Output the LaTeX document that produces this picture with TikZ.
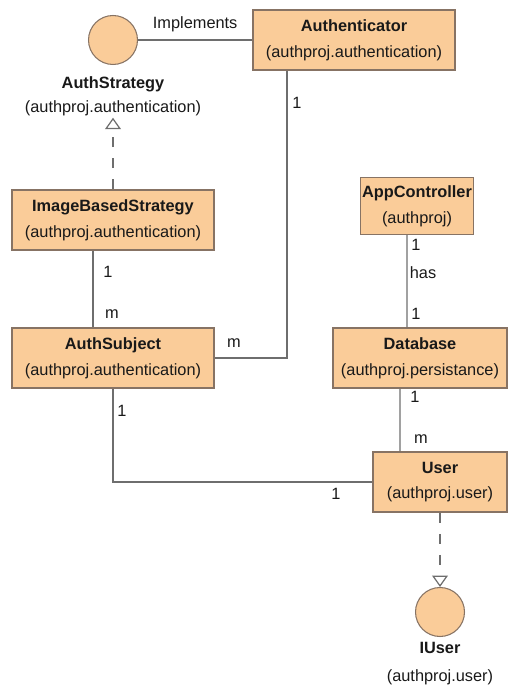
\documentclass[tikz,border=0pt]{standalone}
\usepackage{fontspec}
\setmainfont{Liberation Sans}
\usetikzlibrary{positioning, arrows.meta, shapes}

\definecolor{classfill}{RGB}{250,204,153}
\definecolor{classline}{RGB}{135,115,100}
\definecolor{wirecol}{RGB}{110,110,110}

\begin{document}
\begin{tikzpicture}
            [x=0.02cm, y=-0.02cm,
             txt/.style={font={\fontsize{9.3}{14.7}\selectfont}, text=black!90, inner sep=0pt},
             class/.style={rectangle, draw=classline, fill=classfill, line width=0.8pt,
                           align=center, txt, minimum height=1.2cm},
             iface/.style={circle, draw=classline, fill=classfill, line width=0.6pt,
                           minimum size=0.98cm, inner sep=0pt},
             wire/.style={draw=wirecol, line width=0.7pt},
             realize/.style={wire, dash pattern=on 6pt off 6pt,
                             -{Triangle[open, width=9pt, length=6.5pt]}}]
            \useasboundingbox (0,0) rectangle (509,695);

            % classes
            \node[class, minimum width=4.04cm] (auth) at (354,40) {\textbf{Authenticator}\\(authproj.authentication)};
            \node[class, minimum width=4.04cm] (ibs) at (113,220) {\textbf{ImageBasedStrategy}\\(authproj.authentication)};
            \node[class, minimum width=4.04cm] (subj) at (113,358) {\textbf{AuthSubject}\\(authproj.authentication)};
            \node[class, minimum width=2.26cm, minimum height=1.14cm] (app) at (417,206) {\textbf{AppController}\\(authproj)};
            \node[class, minimum width=3.48cm] (db) at (420,358) {\textbf{Database}\\(authproj.persistance)};
            \node[class, minimum width=2.68cm] (user) at (440,482) {\textbf{User}\\(authproj.user)};

            % interfaces
            \node[iface] (strat) at (113,40) {};
            \node[txt] (stratname) at (113,84) {\textbf{AuthStrategy}};
            \node[txt] (stratpkg) at (113,108) {(authproj.authentication)};
            \node[iface] (iuser) at (440,612) {};
            \node[txt] (iusername) at (440,648) {\textbf{IUser}};
            \node[txt] (iuserpkg) at (440,677) {(authproj.user)};

            \draw[wire] (strat) -- node[txt, above=4.5pt] (impl) {Implements} (auth);
            \draw[realize] (ibs.north) -- ([yshift=-1pt]stratpkg.south);
            \draw[realize] (user.south) -- (iuser.north);

            \draw[wire] ([xshift=-1.34cm]auth.south) |- (subj.east);
            \draw[wire] ([xshift=-0.4cm]ibs.south) -- ([xshift=-0.4cm]subj.north);
            \draw[wire] ([xshift=-0.2cm]app.south) -- ([xshift=-0.26cm]db.north);
            \draw[wire] ([xshift=-0.4cm]db.south) -- ([xshift=-0.8cm]user.north);
            \draw[wire] (subj.south) |- (user.west);

            % multiplicities
            \node[txt] (m1) at (297,103) {1};
            \node[txt] (m2) at (234,343) {m};
            \node[txt] (m3) at (108,272) {1};
            \node[txt] (m4) at (112,314) {m};
            \node[txt] (m5) at (416,245) {1};
            \node[txt] (has) at (423,273) {has};
            \node[txt] (m6) at (416,314) {1};
            \node[txt] (m7) at (415,397) {1};
            \node[txt] (m8) at (421,439) {m};
            \node[txt] (m9) at (122,411) {1};
            \node[txt] (m10) at (336,494) {1};
        \end{tikzpicture}
\end{document}
